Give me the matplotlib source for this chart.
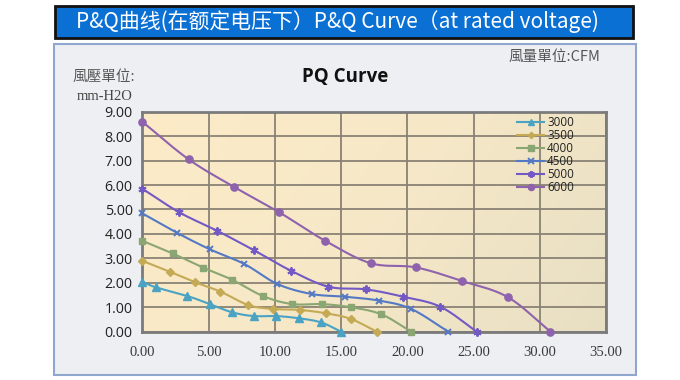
import numpy as np
import matplotlib
matplotlib.use("Agg")
import matplotlib.pyplot as plt
from matplotlib.patches import Rectangle
from matplotlib.colors import LinearSegmentedColormap

# ---- data ----
speeds = ["3000", "3500", "4000", "4500", "5000", "6000"]
q_3000 = [0.0, 1.0, 3.4, 5.1, 6.8, 8.4, 10.1, 11.8, 13.5, 15.0]
p_3000 = [2.05, 1.82, 1.46, 1.13, 0.79, 0.64, 0.64, 0.55, 0.38, 0.0]
q_3500 = [0.0, 2.1, 4.0, 5.9, 8.0, 9.85, 11.9, 13.9, 15.75, 17.7]
p_3500 = [2.9, 2.45, 2.02, 1.64, 1.09, 0.93, 0.89, 0.75, 0.52, 0.0]
q_4000 = [0.0, 2.3, 4.6, 6.8, 9.1, 11.3, 13.55, 15.75, 18.05, 20.3]
p_4000 = [3.72, 3.2, 2.62, 2.12, 1.46, 1.13, 1.13, 1.0, 0.71, 0.0]
q_4500 = [0.0, 2.6, 5.1, 7.7, 10.2, 12.8, 15.3, 17.9, 20.3, 23.1]
p_4500 = [4.84, 4.05, 3.37, 2.77, 1.95, 1.54, 1.43, 1.27, 0.93, 0.0]
q_5000 = [0.0, 2.8, 5.65, 8.4, 11.2, 14.05, 16.9, 19.7, 22.5, 25.25]
p_5000 = [5.85, 4.88, 4.13, 3.34, 2.5, 1.84, 1.73, 1.43, 1.02, 0.0]
q_6000 = [0.0, 3.5, 6.9, 10.35, 13.8, 17.25, 20.65, 24.15, 27.6, 30.8]
p_6000 = [8.59, 7.05, 5.93, 4.88, 3.72, 2.8, 2.63, 2.07, 1.41, 0.0]
x_ticks = [0, 5, 10, 15, 20, 25, 30, 35]
y_ticks = [0, 1, 2, 3, 4, 5, 6, 7, 8, 9]

series = [
    ("3000", q_3000, p_3000, "#4aa3c3", "^", 5.2, 1.0),
    ("3500", q_3500, p_3500, "#c4aa55", "D", 3.8, 1.0),
    ("4000", q_4000, p_4000, "#8aa672", "s", 4.8, 1.0),
    ("4500", q_4500, p_4500, "#5479c4", "x", 5.0, 1.4),
    ("5000", q_5000, p_5000, "#7359c4", (6, 2, 0), 5.8, 1.4),
    ("6000", q_6000, p_6000, "#8e62ac", "o", 5.2, 1.0),
]


def smooth(x, y, n=20):
    x = np.asarray(x, float)
    y = np.asarray(y, float)
    P = np.column_stack([x, y])
    P = np.vstack([P[0] * 2 - P[1], P, P[-1] * 2 - P[-2]])
    out = []
    t = np.linspace(0, 1, n, endpoint=False)[:, None]
    for i in range(1, len(P) - 2):
        p0, p1, p2, p3 = P[i - 1], P[i], P[i + 1], P[i + 2]
        seg = 0.5 * ((2 * p1) + (-p0 + p2) * t + (2 * p0 - 5 * p1 + 4 * p2 - p3) * t ** 2
                     + (-p0 + 3 * p1 - 3 * p2 + p3) * t ** 3)
        out.append(seg)
    out.append(P[-2][None, :])
    out = np.vstack(out)
    return out[:, 0], out[:, 1]


fig = plt.figure(figsize=(6.8, 3.8), dpi=100)
W, H = 680.0, 380.0


def fx(px):
    return px / W


def fy(py):
    return 1 - py / H


# panel
fig.patches.append(Rectangle((fx(53.5), fy(375)), fx(636) - fx(53.5), fy(43.5) - fy(375),
                             transform=fig.transFigure, facecolor="#eeeff2",
                             edgecolor="#8fa7cf", lw=1.5, zorder=0))
# title box
fig.patches.append(Rectangle((fx(55), fy(38)), fx(633) - fx(55), fy(6) - fy(38),
                             transform=fig.transFigure, facecolor="#0b70d4",
                             edgecolor="#111111", lw=2, zorder=1))
fig.text(fx(337), fy(22), "P&Q曲线(在额定电压下）P&Q Curve（at rated voltage)",
         color="white", fontsize=15, ha="center", va="center",
         family=["Noto Sans CJK SC", "DejaVu Sans"], zorder=5)

ax = fig.add_axes([fx(142.3), fy(331.7), fx(606) - fx(142.3), fy(111.7) - fy(331.7)])
ax.set_zorder(3)
ax.set_xlim(0, 35)
ax.set_ylim(0, 9)

# gradient background
cmap = LinearSegmentedColormap.from_list("bg", ["#fdebc7", "#f6e8c8", "#e8dfc3"])
gx, gy = np.meshgrid(np.linspace(0, 1, 200), np.linspace(0, 1, 100))
grad = 0.75 * gx + 0.25 * gy
ax.imshow(grad, extent=[0, 35, 0, 9], origin="upper", aspect="auto", cmap=cmap,
          zorder=0, vmin=0, vmax=1)

ax.set_xticks(x_ticks)
ax.set_yticks(y_ticks)
ax.grid(True, color="#8a8274", lw=1.3, zorder=1)
ax.set_axisbelow(True)
for s in ax.spines.values():
    s.set_color("#7b7b7b")
    s.set_linewidth(2)
ax.tick_params(length=0)
ax.tick_params(axis="y", pad=7)
ax.tick_params(axis="x", pad=10)
ax.set_xticklabels([f"{v:.2f}" for v in x_ticks], family="Liberation Serif",
                   fontsize=10.5, color="#3a3a3a")
ax.set_yticklabels([f"{v:.2f}" for v in y_ticks], family="Open Sans",
                   fontsize=10.3, color="#222222")

handles = []
for name, q, p, c, m, ms, mew in series:
    sx, sy = smooth(q, p)
    ax.plot(sx, sy, color=c, lw=1.5, zorder=3, solid_capstyle="round")
    ax.plot(q, p, ls="none", marker=m, color=c, ms=ms, mew=mew, zorder=4, clip_on=False)
    h, = ax.plot([], [], color=c, lw=1.5, marker=m, ms=ms * 0.85, mew=mew, label=name)
    handles.append(h)

leg = ax.legend(handles=handles, loc="upper left", bbox_to_anchor=(0.79, 1.02),
                frameon=False, labelspacing=0.0, handlelength=2.3,
                handletextpad=0.25, borderpad=0.25, prop={"family": "Open Sans", "size": 8.4})
for t in leg.get_texts():
    t.set_color("#222222")

fig.text(fx(345), fy(77), "PQ Curve", fontsize=13.5, fontweight="bold", ha="center",
         va="center", family="Open Sans", color="#111111")
fig.text(fx(104), fy(77), "風壓單位:", fontsize=10.5, ha="center", va="center",
         family=["Noto Sans CJK TC", "DejaVu Sans"], color="#555555")
fig.text(fx(105), fy(97), "mm-H2O", fontsize=10.5, ha="center", va="center",
         family="Liberation Serif", color="#444444")
fig.text(fx(600), fy(57), "風量單位:CFM", fontsize=10.5, ha="right", va="center",
         family=["Noto Sans CJK TC", "DejaVu Sans"], color="#555555")

fig.savefig("out.png", dpi=100)
